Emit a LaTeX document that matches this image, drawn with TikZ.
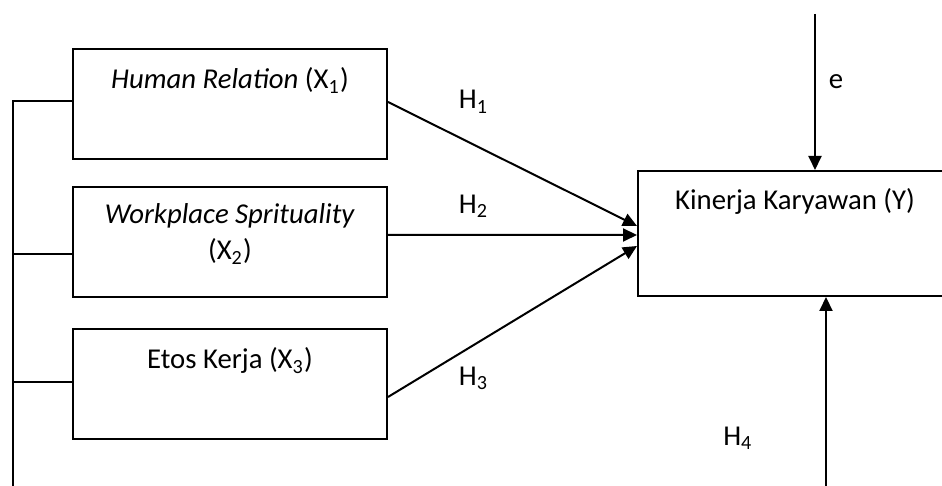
\documentclass[tikz,border=0pt]{standalone}
\usepackage{fontspec}
\setmainfont{Carlito}
\usetikzlibrary{arrows.meta}

\begin{document}
\begin{tikzpicture}[
  font=\fontsize{11.5}{14.4}\selectfont,
  every matrix/.style={ampersand replacement=\&,column sep=99.6pt,row sep=12pt,inner sep=0pt},
  block/.style={draw,thick,inner sep=3pt,minimum width=125.6pt,minimum height=44pt,text height=8pt,text depth=20pt},
  twoline/.style={block,text height=22.4pt,text depth=8pt},
  target/.style={block,minimum height=50pt,text depth=26.8pt},
  to/.style={-{Triangle[length=5.6pt,width=5.2pt]},thick},
  line/.style={thick},
  hyp/.style={inner sep=0pt},
  every node/.style={align=center}]

  % Position the boxes using a matrix layout
  \matrix{
    \node[block] (HR) {\textit{Human Relation} (X\textsubscript{1})}; \& \\[-8pt]
    \node[twoline] (WS) {\textit{Workplace Sprituality}\\(X\textsubscript{2})};
      \& \node[target,yshift=3.4pt] (KK) {Kinerja Karyawan (Y)}; \\
    \node[block] (EK) {Etos Kerja (X\textsubscript{3})}; \& \\
  };

  % Free ends of the lines
  \coordinate (bot) at ([yshift=-20.8pt]EK.south);
  \coordinate (bus) at ([xshift=-23.6pt,yshift=1.2pt]HR.west);
  \coordinate (err) at ([xshift=8pt,yshift=62.4pt]KK.north);
  \coordinate (fb) at ([xshift=12.4pt]KK.south);

  % Draw the line joining the three boxes on the left
  \draw[line] ([yshift=1.2pt]HR.west) -- (bus) -- (bus |- bot);
  \draw[line] ([yshift=-4.8pt]WS.west) -| (bus);
  \draw[line] ([yshift=0.8pt]EK.west) -| (bus);

  % Draw the arrows into the target box and label them
  \draw[to] ([yshift=0.8pt]HR.east) -- node[hyp,pos=.344,yshift=17.2pt] {H\textsubscript{1}} ([yshift=3pt]KK.west);
  \draw[to] ([yshift=2.8pt]WS.east) -- node[hyp,pos=.344,yshift=11.4pt] {H\textsubscript{2}} ([yshift=-0.6pt]KK.west);
  \draw[to] ([yshift=-5.2pt]EK.east) -- node[hyp,pos=.344,yshift=-13.3pt] {H\textsubscript{3}} ([yshift=-5pt]KK.west);
  \draw[to] (err) -- node[hyp,pos=.436,xshift=8.4pt] {e} (err |- KK.north);
  \draw[to] (fb |- bot) -- node[hyp,pos=.275,xshift=-35.2pt] {H\textsubscript{4}} (fb);

  \pgfresetboundingbox
  \path[use as bounding box] ([shift={(-28.8pt,19.2pt)}]HR.north west) rectangle ++(376.8pt,-194.4pt);
\end{tikzpicture}
\end{document}
